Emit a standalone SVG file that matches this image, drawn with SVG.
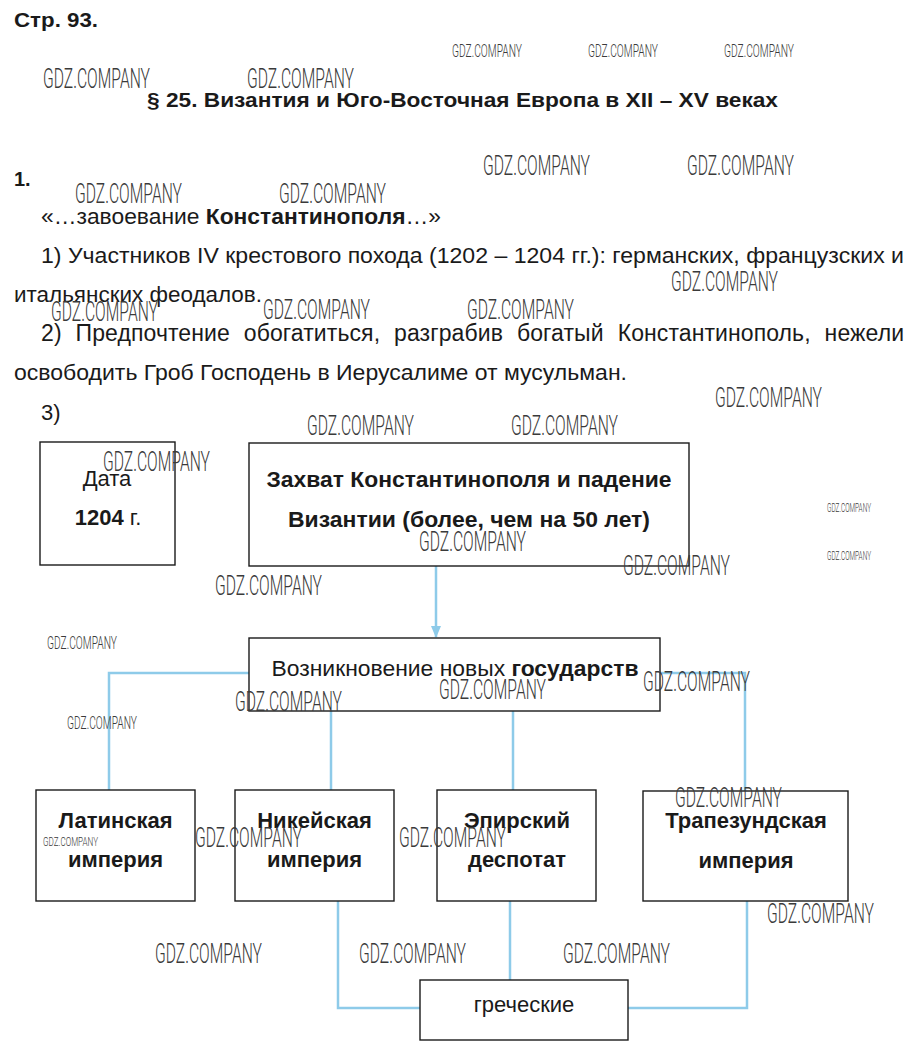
<svg xmlns="http://www.w3.org/2000/svg" width="920" height="1058" viewBox="0 0 920 1058">
<style>
.t{font-family:"Liberation Sans",Arial,sans-serif;fill:#1a1a1a}
.b{font-weight:bold}
.body{font-size:22px}
.bx{font-family:"Liberation Sans",Arial,sans-serif;font-size:22px;font-weight:bold;fill:#1a1a1a;text-anchor:middle}
.box{fill:#fff;stroke:#1a1a1a;stroke-width:1.4}
.c{fill:none;stroke:#8ecbe9;stroke-width:2.5}
.w{font-family:Roboto,"Liberation Sans",sans-serif;font-weight:300;fill:#3a3a3a}
.wl{font-size:27px}
.ws{font-size:18px}
.wt{font-size:13px}
</style>
<defs>
<marker id="ah" markerWidth="12" markerHeight="10" refX="11" refY="5" orient="auto" markerUnits="userSpaceOnUse">
<path d="M0,0 L12,5 L0,10 Z" fill="#8ecbe9"/>
</marker>
</defs>
<rect width="920" height="1058" fill="#fff"/>

<g id="text">
<text class="t b" x="14" y="27" font-size="20" textLength="84" lengthAdjust="spacingAndGlyphs">Стр. 93.</text>
<text class="t b" x="147" y="107" font-size="21" textLength="631" lengthAdjust="spacingAndGlyphs">§ 25. Византия и Юго-Восточная Европа в XII – XV веках</text>
<text class="t b" x="14" y="186" font-size="20">1.</text>
<text class="t body" x="41" y="224" textLength="400" lengthAdjust="spacingAndGlyphs">«…завоевание <tspan class="b">Константинополя</tspan>…»</text>
<text class="t body" x="41" y="263" textLength="863" lengthAdjust="spacingAndGlyphs">1) Участников IV крестового похода (1202 – 1204 гг.): германских, французских и</text>
<text class="t body" x="14" y="302" textLength="248" lengthAdjust="spacingAndGlyphs">итальянских феодалов.</text>
<text class="t" x="41" y="341" font-size="23" word-spacing="7.5" textLength="863" lengthAdjust="spacing">2) Предпочтение обогатиться, разграбив богатый Константинополь, нежели</text>
<text class="t body" x="14" y="380" textLength="613" lengthAdjust="spacingAndGlyphs">освободить Гроб Господень в Иерусалиме от мусульман.</text>
<text class="t body" x="41" y="420">3)</text>
</g>

<g id="connectors">
<line class="c" x1="436" y1="566" x2="436" y2="637" marker-end="url(#ah)"/>
<polyline class="c" points="249,673 109,673 109,790"/>
<line class="c" x1="331" y1="711" x2="331" y2="790"/>
<line class="c" x1="513" y1="711" x2="513" y2="790"/>
<polyline class="c" points="660,673 745,673 745,791"/>
<polyline class="c" points="338,901 338,1008 420,1008"/>
<line class="c" x1="510" y1="901" x2="510" y2="980"/>
<polyline class="c" points="747,901 747,1008 628,1008"/>
</g>

<g id="node-date">
<rect class="box" x="40" y="442" width="135" height="123"/>
<text class="t body" x="107" y="486" text-anchor="middle">Дата</text>
<text class="t body" x="108" y="525" text-anchor="middle"><tspan class="b">1204</tspan> г.</text>
</g>
<g id="node-capture">
<rect class="box" x="249" y="443" width="440" height="123"/>
<text class="bx" x="469" y="487" textLength="405" lengthAdjust="spacingAndGlyphs">Захват Константинополя и падение</text>
<text class="bx" x="469" y="527" textLength="362" lengthAdjust="spacingAndGlyphs">Византии (более, чем на 50 лет)</text>
</g>
<g id="node-new-states">
<rect class="box" x="249" y="638" width="411" height="73"/>
<text class="t body" x="455" y="676" text-anchor="middle" textLength="367" lengthAdjust="spacingAndGlyphs">Возникновение новых <tspan class="b">государств</tspan></text>
</g>
<g id="node-latin">
<rect class="box" x="36" y="790" width="159" height="111"/>
<text class="bx" x="115.5" y="828">Латинская</text>
<text class="bx" x="115.5" y="867">империя</text>
</g>
<g id="node-nicaea">
<rect class="box" x="235" y="790" width="159" height="111"/>
<text class="bx" x="314.5" y="828">Никейская</text>
<text class="bx" x="314.5" y="867">империя</text>
</g>
<g id="node-epirus">
<rect class="box" x="437" y="790" width="159" height="111"/>
<text class="bx" x="517" y="828">Эпирский</text>
<text class="bx" x="517" y="867">деспотат</text>
</g>
<g id="node-trebizond">
<rect class="box" x="643" y="791" width="205" height="110"/>
<text class="bx" x="746" y="828">Трапезундская</text>
<text class="bx" x="746" y="868">империя</text>
</g>
<g id="node-greek">
<rect class="box" x="420" y="980" width="208" height="60"/>
<text class="t body" x="524" y="1012" text-anchor="middle">греческие</text>
</g>

<g id="watermarks">
<text class="w wl" x="43" y="88" textLength="107" lengthAdjust="spacingAndGlyphs">GDZ.COMPANY</text>
<text class="w wl" x="247" y="88" textLength="107" lengthAdjust="spacingAndGlyphs">GDZ.COMPANY</text>
<text class="w wl" x="483" y="175" textLength="107" lengthAdjust="spacingAndGlyphs">GDZ.COMPANY</text>
<text class="w wl" x="687" y="175" textLength="107" lengthAdjust="spacingAndGlyphs">GDZ.COMPANY</text>
<text class="w wl" x="75" y="203" textLength="107" lengthAdjust="spacingAndGlyphs">GDZ.COMPANY</text>
<text class="w wl" x="279" y="203" textLength="107" lengthAdjust="spacingAndGlyphs">GDZ.COMPANY</text>
<text class="w wl" x="671" y="291" textLength="107" lengthAdjust="spacingAndGlyphs">GDZ.COMPANY</text>
<text class="w wl" x="51" y="321" textLength="107" lengthAdjust="spacingAndGlyphs">GDZ.COMPANY</text>
<text class="w wl" x="263" y="319" textLength="107" lengthAdjust="spacingAndGlyphs">GDZ.COMPANY</text>
<text class="w wl" x="467" y="319" textLength="107" lengthAdjust="spacingAndGlyphs">GDZ.COMPANY</text>
<text class="w wl" x="715" y="407" textLength="107" lengthAdjust="spacingAndGlyphs">GDZ.COMPANY</text>
<text class="w wl" x="307" y="435" textLength="107" lengthAdjust="spacingAndGlyphs">GDZ.COMPANY</text>
<text class="w wl" x="511" y="435" textLength="107" lengthAdjust="spacingAndGlyphs">GDZ.COMPANY</text>
<text class="w wl" x="103" y="471" textLength="107" lengthAdjust="spacingAndGlyphs">GDZ.COMPANY</text>
<text class="w wl" x="419" y="551" textLength="107" lengthAdjust="spacingAndGlyphs">GDZ.COMPANY</text>
<text class="w wl" x="623" y="575" textLength="107" lengthAdjust="spacingAndGlyphs">GDZ.COMPANY</text>
<text class="w wl" x="215" y="595" textLength="107" lengthAdjust="spacingAndGlyphs">GDZ.COMPANY</text>
<text class="w wl" x="439" y="699" textLength="107" lengthAdjust="spacingAndGlyphs">GDZ.COMPANY</text>
<text class="w wl" x="643" y="691" textLength="107" lengthAdjust="spacingAndGlyphs">GDZ.COMPANY</text>
<text class="w wl" x="235" y="711" textLength="107" lengthAdjust="spacingAndGlyphs">GDZ.COMPANY</text>
<text class="w wl" x="675" y="807" textLength="107" lengthAdjust="spacingAndGlyphs">GDZ.COMPANY</text>
<text class="w wl" x="195" y="847" textLength="107" lengthAdjust="spacingAndGlyphs">GDZ.COMPANY</text>
<text class="w wl" x="399" y="847" textLength="107" lengthAdjust="spacingAndGlyphs">GDZ.COMPANY</text>
<text class="w wl" x="767" y="923" textLength="107" lengthAdjust="spacingAndGlyphs">GDZ.COMPANY</text>
<text class="w wl" x="155" y="963" textLength="107" lengthAdjust="spacingAndGlyphs">GDZ.COMPANY</text>
<text class="w wl" x="359" y="963" textLength="107" lengthAdjust="spacingAndGlyphs">GDZ.COMPANY</text>
<text class="w wl" x="563" y="963" textLength="107" lengthAdjust="spacingAndGlyphs">GDZ.COMPANY</text>
<text class="w ws" x="452" y="57" textLength="70" lengthAdjust="spacingAndGlyphs">GDZ.COMPANY</text>
<text class="w ws" x="588" y="57" textLength="70" lengthAdjust="spacingAndGlyphs">GDZ.COMPANY</text>
<text class="w ws" x="724" y="57" textLength="70" lengthAdjust="spacingAndGlyphs">GDZ.COMPANY</text>
<text class="w ws" x="47" y="649" textLength="70" lengthAdjust="spacingAndGlyphs">GDZ.COMPANY</text>
<text class="w ws" x="67" y="729" textLength="70" lengthAdjust="spacingAndGlyphs">GDZ.COMPANY</text>
<text class="w wt" x="827" y="512" textLength="44" lengthAdjust="spacingAndGlyphs">GDZ.COMPANY</text>
<text class="w wt" x="827" y="560" textLength="44" lengthAdjust="spacingAndGlyphs">GDZ.COMPANY</text>
<text class="w wt" x="43" y="846" textLength="55" lengthAdjust="spacingAndGlyphs">GDZ.COMPANY</text>
</g>
</svg>
